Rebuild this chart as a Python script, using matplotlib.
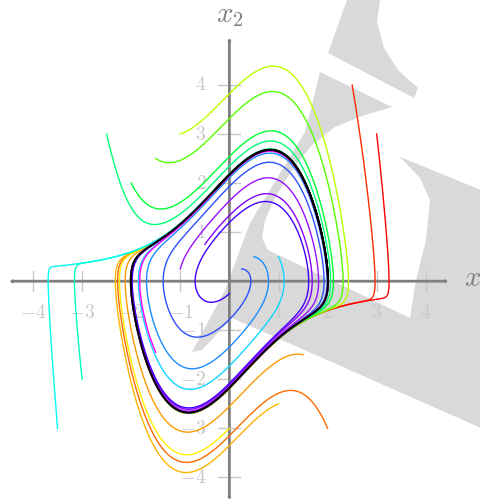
import numpy as np
import matplotlib
matplotlib.use("Agg")
import matplotlib.pyplot as plt
from matplotlib.patches import Polygon, FancyArrowPatch

plt.rcParams['mathtext.fontset'] = 'cm'

# Van der Pol parameter
MU = 1.0
T_END = 14.0

# initial conditions (x1, x2) and colours
outer_x1 = [2.5, 3.0, 2.0, 1.5, 1.0, 0.0, -1.0, -1.5, -2.0, -2.5, -3.0, -3.5]
outer_x2 = [4.0, 3.0, -3.0, -1.5, -2.5, -3.0, 3.0, 2.5, 2.0, 3.0, -2.0, -3.0]
outer_col = ['#ff2a00', '#ff0000', '#ff6a00', '#ff9a00', '#ffb400', '#ffee00',
             '#bbff00', '#55ff00', '#00ff33', '#00ff77', '#00ffbb', '#00ffee']

inner_x1 = [1.0, 0.5, 0.25, -0.5, -1.0, 0.0, -1.5]
inner_x2 = [0.5, 0.5, 0.25, 0.75, 0.25, -0.25, -1.45]
inner_col = ['#11d4ff', '#1a8cff', '#2b50ff', '#8800ff', '#9a10ff',
             '#4000ff', '#ff00ff']

ticks = [-4, -3, -2, -1, 1, 2, 3, 4]


def f(s):
    x1, x2 = s
    return np.array([x2, -x1 + MU * (1 - x1 ** 2) * x2])


def integrate(x0, t_end, dt=0.004):
    n = int(t_end / dt)
    out = np.empty((n + 1, 2))
    s = np.array(x0, float)
    out[0] = s
    for i in range(n):
        k1 = f(s)
        k2 = f(s + dt / 2 * k1)
        k3 = f(s + dt / 2 * k2)
        k4 = f(s + dt * k3)
        s = s + dt / 6 * (k1 + 2 * k2 + 2 * k3 + k4)
        out[i + 1] = s
    return out


fig = plt.figure(figsize=(4.81, 5.04), dpi=100)

# watermark layer (pixel coordinates)
bg = fig.add_axes([0, 0, 1, 1])
bg.set_xlim(0, 481)
bg.set_ylim(504, 0)
bg.axis('off')
gray = '#d9d9d9'
shapes = [
    [(347, 0), (380, 0), (377, 22), (384, 48), (398, 70), (418, 88), (414, 98), (328, 53)],
    [(320, 72), (312, 105), (305, 132), (250, 223), (225, 290), (192, 352), (202, 350),
     (232, 318), (481, 428), (481, 190), (400, 157), (420, 178), (430, 200), (426, 240),
     (416, 280), (410, 318), (268, 250), (262, 238), (265, 220), (275, 198), (292, 170),
     (312, 145), (335, 127), (362, 116), (392, 107)],
]
for s in shapes:
    bg.add_patch(Polygon(s, closed=True, facecolor=gray, edgecolor='none'))

ax = fig.add_axes([0, 0, 1, 1])
ax.patch.set_alpha(0)
ax.set_xlim(-229.4 / 49.1, (481 - 229.4) / 49.1)
ax.set_ylim(-(504 - 281.2) / 49.05, 281.2 / 49.05)
ax.axis('off')

axc = '#808080'
tc = '#c8c8c8'
for t in ticks:
    ax.plot([t, t], [-0.2, 0.2], color=tc, lw=1.0, zorder=1)
    ax.plot([-0.23, 0.22], [t, t], color=tc, lw=1.0, zorder=1)
    lab = '$%d$' % t
    ax.text(t, -0.64, lab, color=tc, fontsize=14, ha='center', va='center', zorder=1)
    ax.text(-0.47, t, lab, color=tc, fontsize=14, ha='right', va='center', zorder=1)

arr = dict(arrowstyle='<|-|>,head_length=0.7,head_width=0.3', color=axc, lw=2.0,
           shrinkA=0, shrinkB=0)
ax.add_patch(FancyArrowPatch((-4.5, 0), (4.48, 0), zorder=2, **arr))
ax.add_patch(FancyArrowPatch((0, -4.48), (0, 4.98), zorder=2, **arr))
ax.text(4.78, 0.05, '$x_1$', color=axc, fontsize=21, ha='left', va='center')
ax.text(0.0, 5.42, '$x_2$', color=axc, fontsize=21, ha='center', va='center')

for a, b, c in zip(outer_x1 + inner_x1, outer_x2 + inner_x2, outer_col + inner_col):
    tr = integrate((a, b), T_END)
    ax.plot(tr[:, 0], tr[:, 1], color=c, lw=1.0, zorder=3)

# limit cycle
lc = integrate((2.0, 0.0), 40.0)
ax.plot(lc[-2000:, 0], lc[-2000:, 1], color='black', lw=1.4, zorder=4)

fig.savefig('out.png', dpi=100)
